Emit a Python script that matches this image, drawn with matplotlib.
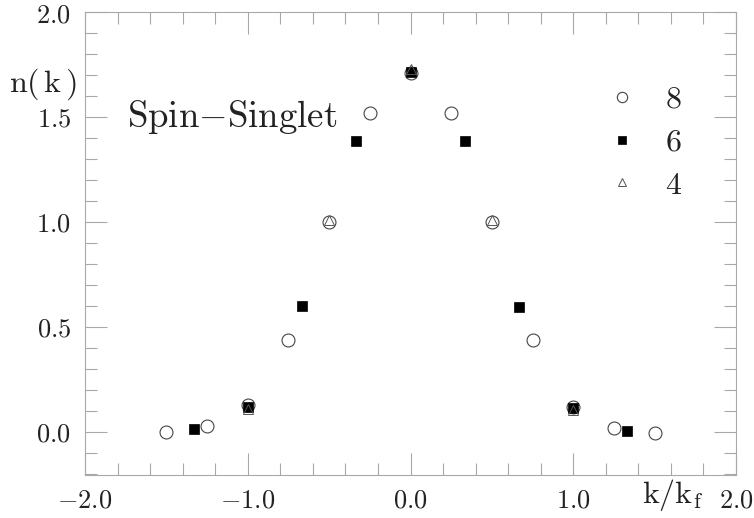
import matplotlib
matplotlib.use("Agg")
import matplotlib.pyplot as plt
from matplotlib.ticker import FixedLocator, FixedFormatter, MultipleLocator

plt.rcParams['mathtext.fontset'] = 'cm'

# ---- data ----
k8 = [-1.5, -1.25, -1.0, -0.75, -0.5, -0.25, 0.0, 0.25, 0.5, 0.75, 1.0, 1.25, 1.5]
n8 = [0.00, 0.03, 0.13, 0.44, 1.00, 1.52, 1.71, 1.52, 1.00, 0.44, 0.12, 0.02, -0.005]
k6 = [-1.333, -1.0, -0.667, -0.333, 0.0, 0.333, 0.667, 1.0, 1.333]
n6 = [0.014, 0.12, 0.60, 1.386, 1.715, 1.386, 0.595, 0.115, 0.005]
k4 = [-1.0, -0.5, 0.0, 0.5, 1.0]
n4 = [0.11, 1.01, 1.73, 1.01, 0.105]
legend_labels = ['8', '6', '4']
xtick_vals = [-2.0, -1.0, 0.0, 1.0, 2.0]
xtick_labels = ['-2.0', '-1.0', '0.0', '1.0', '2.0']
ytick_vals = [0.0, 0.5, 1.0, 1.5, 2.0]
ytick_labels = ['0.0', '0.5', '1.0', '1.5', '2.0']

fig = plt.figure(figsize=(7.54, 5.18), dpi=100)
ax = fig.add_axes([85/754, 1 - 475/518, 651/754, 463/518])
ax.set_xlim(-2.0, 2.0)
ax.set_ylim(-0.205, 2.0)

frame_c = '#a8a8a8'
for s in ax.spines.values():
    s.set_color(frame_c)
    s.set_linewidth(0.8)

l8, = ax.plot(k8, n8, linestyle='none', marker='o', ms=9.3, mfc='none', mec='#444444', mew=0.8)
l6, = ax.plot(k6, n6, linestyle='none', marker='s', ms=6.5, mfc='black', mec='black', mew=0.5)
l4, = ax.plot(k4, n4, linestyle='none', marker='^', ms=7, mfc='none', mec='#555555', mew=0.7)

ax.xaxis.set_major_locator(FixedLocator(xtick_vals))
ax.xaxis.set_major_formatter(FixedFormatter(['$\\mathrm{%s}$' % t for t in xtick_labels]))
ax.xaxis.set_minor_locator(MultipleLocator(0.2))
ax.yaxis.set_major_locator(FixedLocator(ytick_vals))
ax.yaxis.set_major_formatter(FixedFormatter(['$\\mathrm{%s}$' % t for t in ytick_labels]))
ax.yaxis.set_minor_locator(MultipleLocator(0.1))

ax.tick_params(which='both', direction='in', top=True, right=True, color=frame_c, width=0.8,
               labelsize=19, labelcolor='#222222')
ax.tick_params(which='major', length=16)
ax.tick_params(which='minor', length=8.5)
ax.tick_params(axis='x', which='major', pad=9)
ax.tick_params(axis='y', which='major', pad=10)

ax.text(-1.74, 1.452, r'$\mathrm{Spin{-}Singlet}$', fontsize=26.5, color='#222222', ha='left', va='baseline')
ax.text(-2.47, 1.619, r'$\mathrm{n(\,k\,)}$', fontsize=23, color='#222222', ha='left', va='baseline', clip_on=False)
ax.text(1.42, -0.338, r'$\mathrm{k/k_f}$', fontsize=23, color='#222222', ha='left', va='baseline', clip_on=False)

leg = ax.legend([l8, l6, l4], ['$\\mathrm{%s}$' % s for s in legend_labels], loc='upper left',
                bbox_to_anchor=((590 - 85) / 651, (475 - 68) / 463),
                frameon=False, fontsize=23, handlelength=1.0, handletextpad=0.85, labelspacing=0.37,
                markerscale=0.8, borderpad=0)
for t in leg.get_texts():
    t.set_color('#222222')

fig.savefig('out.png', dpi=100)
